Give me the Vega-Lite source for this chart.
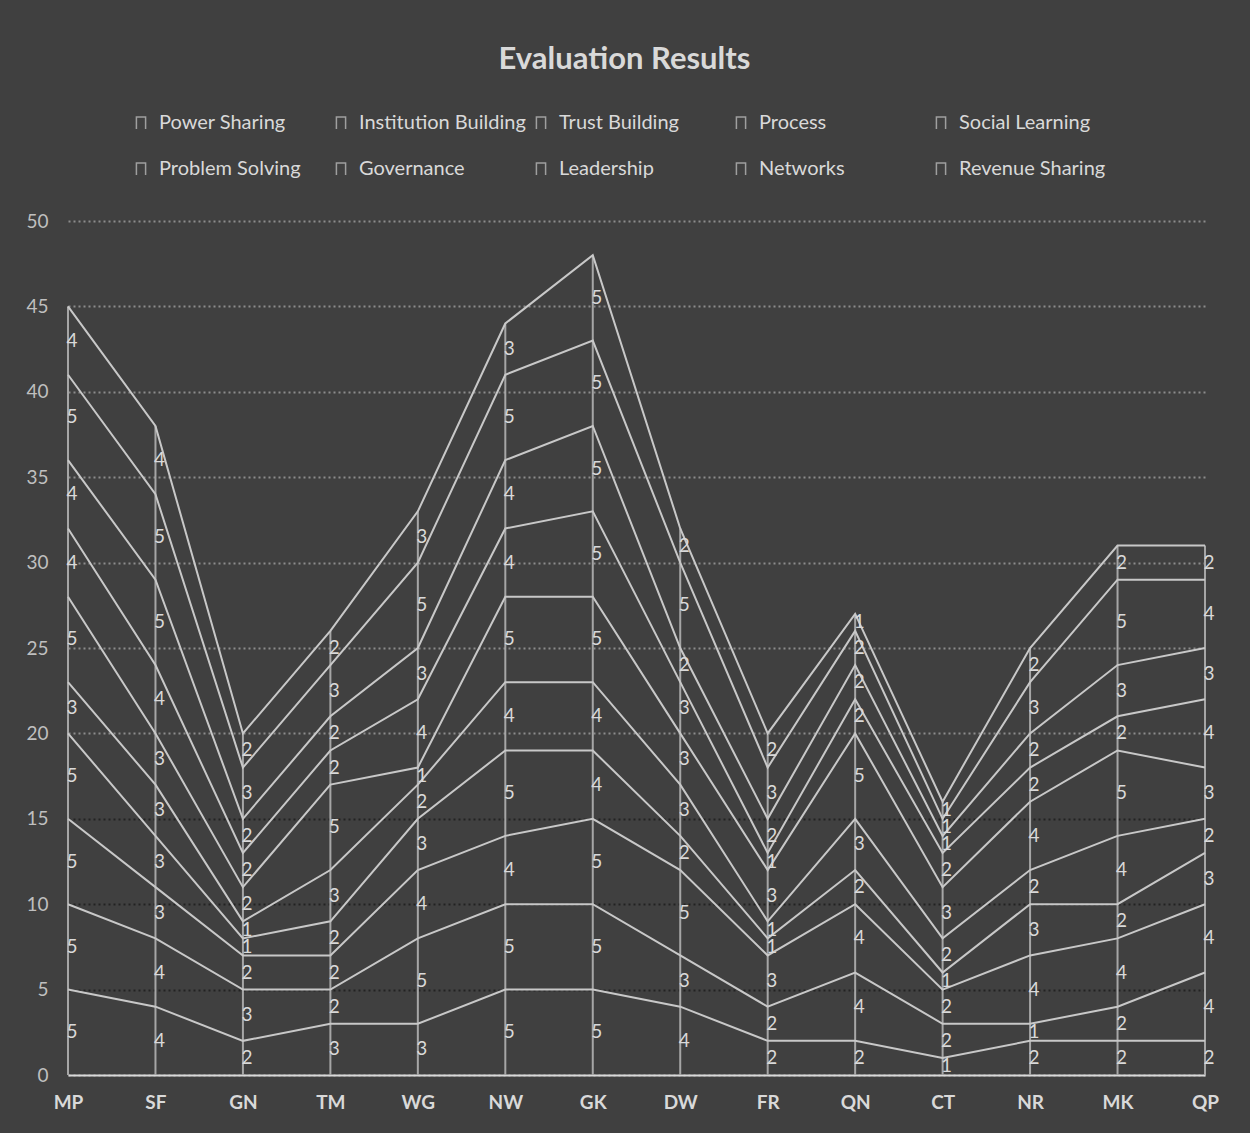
{
 "$schema": "https://vega.github.io/schema/vega-lite/v6.json",
 "width": 1137, "height": 854,
 "autosize": {"type": "none"},
 "padding": {"left": 68, "top": 221, "right": 45, "bottom": 58},
 "background": "#404040",
 "title": {"text": "Evaluation Results", "font": "Lato", "fontSize": 31, "fontWeight": "bold", "color": "#d9d9d9", "anchor": "middle", "offset": 37, "dx": -12},
 "data": {"values": [
  {"c":"MP","s":"Power Sharing","o":1,"v":5},{"c":"MP","s":"Institution Building","o":2,"v":5},{"c":"MP","s":"Trust Building","o":3,"v":5},{"c":"MP","s":"Process","o":4,"v":5},{"c":"MP","s":"Social Learning","o":5,"v":3},{"c":"MP","s":"Problem Solving","o":6,"v":5},{"c":"MP","s":"Governance","o":7,"v":4},{"c":"MP","s":"Leadership","o":8,"v":4},{"c":"MP","s":"Networks","o":9,"v":5},{"c":"MP","s":"Revenue Sharing","o":10,"v":4},
  {"c":"SF","s":"Power Sharing","o":1,"v":4},{"c":"SF","s":"Institution Building","o":2,"v":4},{"c":"SF","s":"Trust Building","o":3,"v":3},{"c":"SF","s":"Process","o":4,"v":3},{"c":"SF","s":"Social Learning","o":5,"v":3},{"c":"SF","s":"Problem Solving","o":6,"v":3},{"c":"SF","s":"Governance","o":7,"v":4},{"c":"SF","s":"Leadership","o":8,"v":5},{"c":"SF","s":"Networks","o":9,"v":5},{"c":"SF","s":"Revenue Sharing","o":10,"v":4},
  {"c":"GN","s":"Power Sharing","o":1,"v":2},{"c":"GN","s":"Institution Building","o":2,"v":3},{"c":"GN","s":"Trust Building","o":3,"v":2},{"c":"GN","s":"Process","o":4,"v":1},{"c":"GN","s":"Social Learning","o":5,"v":1},{"c":"GN","s":"Problem Solving","o":6,"v":2},{"c":"GN","s":"Governance","o":7,"v":2},{"c":"GN","s":"Leadership","o":8,"v":2},{"c":"GN","s":"Networks","o":9,"v":3},{"c":"GN","s":"Revenue Sharing","o":10,"v":2},
  {"c":"TM","s":"Power Sharing","o":1,"v":3},{"c":"TM","s":"Institution Building","o":2,"v":2},{"c":"TM","s":"Trust Building","o":3,"v":2},{"c":"TM","s":"Process","o":4,"v":2},{"c":"TM","s":"Social Learning","o":5,"v":3},{"c":"TM","s":"Problem Solving","o":6,"v":5},{"c":"TM","s":"Governance","o":7,"v":2},{"c":"TM","s":"Leadership","o":8,"v":2},{"c":"TM","s":"Networks","o":9,"v":3},{"c":"TM","s":"Revenue Sharing","o":10,"v":2},
  {"c":"WG","s":"Power Sharing","o":1,"v":3},{"c":"WG","s":"Institution Building","o":2,"v":5},{"c":"WG","s":"Trust Building","o":3,"v":4},{"c":"WG","s":"Process","o":4,"v":3},{"c":"WG","s":"Social Learning","o":5,"v":2},{"c":"WG","s":"Problem Solving","o":6,"v":1},{"c":"WG","s":"Governance","o":7,"v":4},{"c":"WG","s":"Leadership","o":8,"v":3},{"c":"WG","s":"Networks","o":9,"v":5},{"c":"WG","s":"Revenue Sharing","o":10,"v":3},
  {"c":"NW","s":"Power Sharing","o":1,"v":5},{"c":"NW","s":"Institution Building","o":2,"v":5},{"c":"NW","s":"Trust Building","o":3,"v":4},{"c":"NW","s":"Process","o":4,"v":5},{"c":"NW","s":"Social Learning","o":5,"v":4},{"c":"NW","s":"Problem Solving","o":6,"v":5},{"c":"NW","s":"Governance","o":7,"v":4},{"c":"NW","s":"Leadership","o":8,"v":4},{"c":"NW","s":"Networks","o":9,"v":5},{"c":"NW","s":"Revenue Sharing","o":10,"v":3},
  {"c":"GK","s":"Power Sharing","o":1,"v":5},{"c":"GK","s":"Institution Building","o":2,"v":5},{"c":"GK","s":"Trust Building","o":3,"v":5},{"c":"GK","s":"Process","o":4,"v":4},{"c":"GK","s":"Social Learning","o":5,"v":4},{"c":"GK","s":"Problem Solving","o":6,"v":5},{"c":"GK","s":"Governance","o":7,"v":5},{"c":"GK","s":"Leadership","o":8,"v":5},{"c":"GK","s":"Networks","o":9,"v":5},{"c":"GK","s":"Revenue Sharing","o":10,"v":5},
  {"c":"DW","s":"Power Sharing","o":1,"v":4},{"c":"DW","s":"Institution Building","o":2,"v":3},{"c":"DW","s":"Trust Building","o":3,"v":5},{"c":"DW","s":"Process","o":4,"v":2},{"c":"DW","s":"Social Learning","o":5,"v":3},{"c":"DW","s":"Problem Solving","o":6,"v":3},{"c":"DW","s":"Governance","o":7,"v":3},{"c":"DW","s":"Leadership","o":8,"v":2},{"c":"DW","s":"Networks","o":9,"v":5},{"c":"DW","s":"Revenue Sharing","o":10,"v":2},
  {"c":"FR","s":"Power Sharing","o":1,"v":2},{"c":"FR","s":"Institution Building","o":2,"v":2},{"c":"FR","s":"Trust Building","o":3,"v":3},{"c":"FR","s":"Process","o":4,"v":1},{"c":"FR","s":"Social Learning","o":5,"v":1},{"c":"FR","s":"Problem Solving","o":6,"v":3},{"c":"FR","s":"Governance","o":7,"v":1},{"c":"FR","s":"Leadership","o":8,"v":2},{"c":"FR","s":"Networks","o":9,"v":3},{"c":"FR","s":"Revenue Sharing","o":10,"v":2},
  {"c":"QN","s":"Power Sharing","o":1,"v":2},{"c":"QN","s":"Institution Building","o":2,"v":4},{"c":"QN","s":"Trust Building","o":3,"v":4},{"c":"QN","s":"Process","o":4,"v":2},{"c":"QN","s":"Social Learning","o":5,"v":3},{"c":"QN","s":"Problem Solving","o":6,"v":5},{"c":"QN","s":"Governance","o":7,"v":2},{"c":"QN","s":"Leadership","o":8,"v":2},{"c":"QN","s":"Networks","o":9,"v":2},{"c":"QN","s":"Revenue Sharing","o":10,"v":1},
  {"c":"CT","s":"Power Sharing","o":1,"v":1},{"c":"CT","s":"Institution Building","o":2,"v":2},{"c":"CT","s":"Trust Building","o":3,"v":2},{"c":"CT","s":"Process","o":4,"v":1},{"c":"CT","s":"Social Learning","o":5,"v":2},{"c":"CT","s":"Problem Solving","o":6,"v":3},{"c":"CT","s":"Governance","o":7,"v":2},{"c":"CT","s":"Leadership","o":8,"v":1},{"c":"CT","s":"Networks","o":9,"v":1},{"c":"CT","s":"Revenue Sharing","o":10,"v":1},
  {"c":"NR","s":"Power Sharing","o":1,"v":2},{"c":"NR","s":"Institution Building","o":2,"v":1},{"c":"NR","s":"Trust Building","o":3,"v":4},{"c":"NR","s":"Process","o":4,"v":3},{"c":"NR","s":"Social Learning","o":5,"v":2},{"c":"NR","s":"Problem Solving","o":6,"v":4},{"c":"NR","s":"Governance","o":7,"v":2},{"c":"NR","s":"Leadership","o":8,"v":2},{"c":"NR","s":"Networks","o":9,"v":3},{"c":"NR","s":"Revenue Sharing","o":10,"v":2},
  {"c":"MK","s":"Power Sharing","o":1,"v":2},{"c":"MK","s":"Institution Building","o":2,"v":2},{"c":"MK","s":"Trust Building","o":3,"v":4},{"c":"MK","s":"Process","o":4,"v":2},{"c":"MK","s":"Social Learning","o":5,"v":4},{"c":"MK","s":"Problem Solving","o":6,"v":5},{"c":"MK","s":"Governance","o":7,"v":2},{"c":"MK","s":"Leadership","o":8,"v":3},{"c":"MK","s":"Networks","o":9,"v":5},{"c":"MK","s":"Revenue Sharing","o":10,"v":2},
  {"c":"QP","s":"Power Sharing","o":1,"v":2},{"c":"QP","s":"Institution Building","o":2,"v":4},{"c":"QP","s":"Trust Building","o":3,"v":4},{"c":"QP","s":"Process","o":4,"v":3},{"c":"QP","s":"Social Learning","o":5,"v":2},{"c":"QP","s":"Problem Solving","o":6,"v":3},{"c":"QP","s":"Governance","o":7,"v":4},{"c":"QP","s":"Leadership","o":8,"v":3},{"c":"QP","s":"Networks","o":9,"v":4},{"c":"QP","s":"Revenue Sharing","o":10,"v":2}
 ]},
 "transform": [{"stack": "v", "groupby": ["c"], "sort": [{"field": "o", "order": "ascending"}], "as": ["y0", "y1"]}],
 "layer": [
  {
   "transform": [{"aggregate": [{"op": "max", "field": "y1", "as": "tot"}], "groupby": ["c"]}],
   "mark": {"type": "rule", "color": "#a6a6a6", "strokeWidth": 2},
   "encoding": {
    "x": {"field": "c", "type": "ordinal", "scale": {"type": "point", "padding": 0, "domain": ["MP","SF","GN","TM","WG","NW","GK","DW","FR","QN","CT","NR","MK","QP"]}, "axis": {"title": null, "labelAngle": 0}},
    "y": {"field": "tot", "type": "quantitative"},
    "y2": {"datum": 0}
   }
  },
  {
   "mark": {"type": "line", "strokeWidth": 2},
   "encoding": {
    "x": {"field": "c", "type": "ordinal"},
    "y": {"field": "y1", "type": "quantitative", "scale": {"domain": [0, 50]},
          "axis": {"title": null, "values": [0,5,10,15,20,25,30,35,40,45,50],
                   "gridColor": {"condition": {"test": "datum.value > 0 && datum.value <= 15", "value": "#222222"}, "value": "#8c8c8c"}}},
    "color": {"field": "s", "type": "nominal",
     "scale": {"domain": ["Power Sharing","Institution Building","Trust Building","Process","Social Learning","Problem Solving","Governance","Leadership","Networks","Revenue Sharing"],
               "range": ["#c8c8c8","#c8c8c8","#c8c8c8","#c8c8c8","#c8c8c8","#c8c8c8","#c8c8c8","#c8c8c8","#c8c8c8","#c8c8c8"]},
     "legend": {"title": null, "orient": "none", "legendX": 63, "legendY": -108, "direction": "horizontal", "columns": 5, "gridAlign": "all",
                "columnPadding": 5, "rowPadding": 26, "labelFontSize": 20, "labelColor": "#d9d9d9", "labelFont": "Lato",
                "symbolType": "M-0.75,1V-1H0.75V1", "symbolStrokeWidth": 1.5, "symbolSize": 150, "symbolOpacity": 0.7, "symbolFillColor": "transparent", "labelOffset": 8, "labelLimit": 300}}
   }
  },
  {
   "transform": [{"fold": ["y0", "y1"], "as": ["k", "yy"]}],
   "mark": {"type": "text", "color": "#d9d9d9", "fontSize": 19, "font": "Lato", "dx": 4},
   "encoding": {
    "x": {"field": "c", "type": "ordinal"},
    "y": {"aggregate": "mean", "field": "yy", "type": "quantitative"},
    "detail": {"field": "s", "type": "nominal"},
    "text": {"field": "v", "type": "quantitative"}
   }
  }
 ],
 "config": {
  "font": "Lato",
  "view": {"stroke": null},
  "axisX": {"domainColor": "#d9d9d9", "domainWidth": 2, "ticks": false, "labelFontSize": 19, "labelFontWeight": "bold", "labelColor": "#d9d9d9", "labelPadding": 18, "grid": false},
  "axisY": {"domain": false, "ticks": false, "labelFontSize": 19, "labelColor": "#bfbfbf", "labelPadding": 20, "gridDash": [2, 3], "gridWidth": 2}
 }
}
